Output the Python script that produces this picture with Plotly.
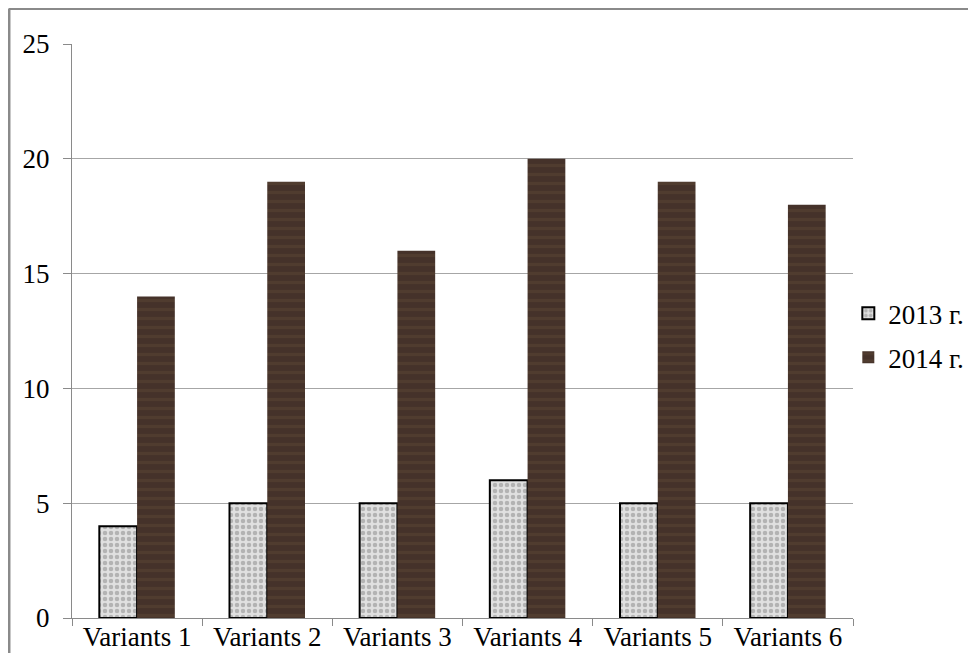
import plotly.graph_objects as go

categories = ["Variants 1", "Variants 2", "Variants 3", "Variants 4", "Variants 5", "Variants 6"]
values_2013 = [4, 5, 5, 6, 5, 5]
values_2014 = [14, 19, 16, 20, 19, 18]
series_names = ["2013 г.", "2014 г."]
y_ticks = [0, 5, 10, 15, 20, 25]

font_family = "Liberation Serif"

fig = go.Figure()
fig.add_trace(go.Bar(
    x=categories, y=values_2013, name=series_names[0], legendgroup="a",
    marker=dict(
        color="#d6d6d6",
        line=dict(color="#000000", width=2),
        pattern=dict(shape=".", fgcolor="#858585", bgcolor="#e0e0e0", size=6, solidity=0.45),
    ),
))
fig.add_trace(go.Bar(
    x=categories, y=values_2014, name=series_names[1], legendgroup="b",
    marker=dict(
        color="#4a3628",
        line=dict(color="#4a3628", width=0),
        pattern=dict(shape="-", fgcolor="#5c4533", bgcolor="#45322a", size=9, solidity=0.35),
    ),
))

# outer frame (top and left edges visible)
fig.add_shape(type="line", xref="paper", yref="paper",
              x0=-0.0807, x1=1.2, y0=1.062, y1=1.062,
              line=dict(color="#8a8a8a", width=3))
fig.add_shape(type="line", xref="paper", yref="paper",
              x0=-0.0807, x1=-0.0807, y0=1.062, y1=-0.1,
              line=dict(color="#8a8a8a", width=3))

fig.update_layout(
    width=960, height=645,
    margin=dict(l=64, r=115, t=36, b=35, autoexpand=False),
    paper_bgcolor="white", plot_bgcolor="white",
    barmode="group", bargap=0.42, bargroupgap=0,
    font=dict(family=font_family, size=27, color="#000000"),
    showlegend=True,
    legend=dict(x=0.994, xanchor="left", y=0.492, yanchor="middle",
                font=dict(family=font_family, size=27),
                tracegroupgap=6, bgcolor="rgba(0,0,0,0)"),
)
fig.update_xaxes(
    type="category", tickson="boundaries", ticks="outside", ticklen=7,
    tickcolor="#8a8a8a", showline=True, linecolor="#8a8a8a", linewidth=1,
    showgrid=False, automargin=False, ticklabelstandoff=-5,
    tickfont=dict(family=font_family, size=27),
)
fig.update_yaxes(
    range=[0, 25], tickvals=y_ticks, ticks="outside", ticklen=8,
    tickcolor="#8a8a8a", showline=True, linecolor="#8a8a8a", linewidth=1,
    showgrid=True, gridcolor="#a6a6a6", gridwidth=1, zeroline=False,
    automargin=False, ticklabelstandoff=8, tickfont=dict(family=font_family, size=27),
)

fig.write_html("out.html")
